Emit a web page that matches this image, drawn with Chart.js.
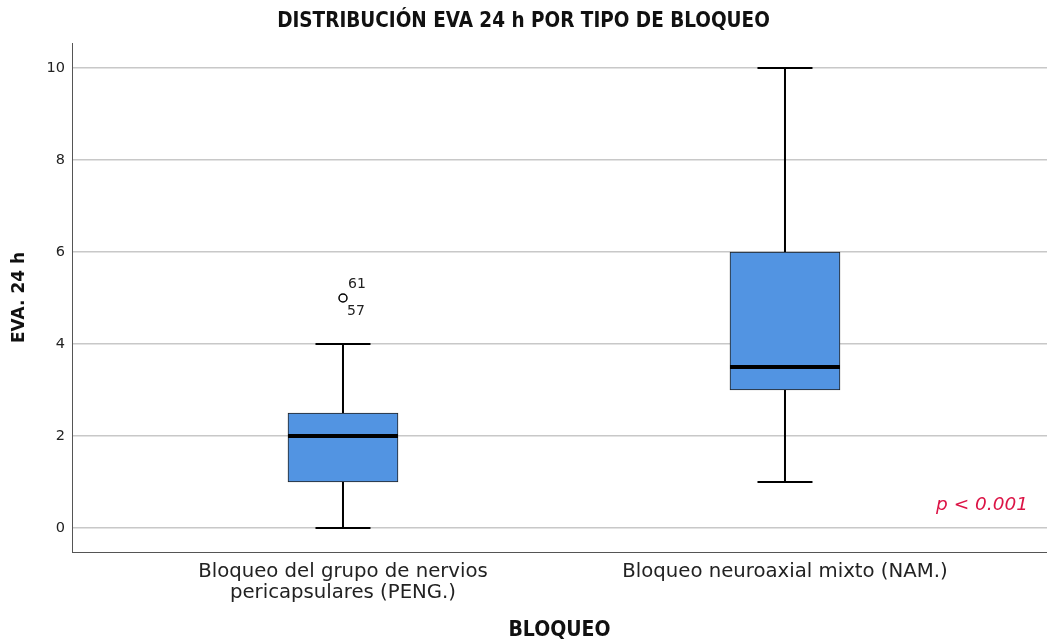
<!DOCTYPE html>
<html>
<head>
<meta charset="utf-8">
<script src="https://cdn.jsdelivr.net/npm/chart.js@4/dist/chart.umd.min.js"></script>
<style>
html,body{margin:0;padding:0;background:#fff;}
#wrap{width:1047px;height:644px;}
</style>
</head>
<body>
<div id="wrap"><canvas id="c" width="1047" height="644"></canvas></div>
<script>
// ---- data ----
const categoryLines = [['Bloqueo del grupo de nervios', 'pericapsulares (PENG.)'], ['Bloqueo neuroaxial mixto (NAM.)']];
const categoryPos = [0, 1];
const mins = [0, 1];
const q1s = [1, 3];
const medians = [2, 3.5];
const q3s = [2.5, 6];
const maxs = [4, 10];
const outlierCat = [0];
const outlierValues = [5];
const outlierCaseLabels = [['61', '57']];
const yTicks = [0, 2, 4, 6, 8, 10];
const titleText = 'DISTRIBUCIÓN EVA 24 h POR TIPO DE BLOQUEO';
const yTitle = 'EVA. 24 h';
const xTitle = 'BLOQUEO';
const pText = 'p < 0.001';

const boxColor = '#5294e2';
const condBold = '"DejaVu Sans Condensed", "DejaVu Sans"';

const boxPlugin = {
  id: 'boxExtras',
  afterDatasetsDraw(chart) {
    const ctx = chart.ctx;
    const xs = chart.scales.x, ys = chart.scales.y;
    const meta = chart.getDatasetMeta(0);
    ctx.save();
    categoryPos.forEach((c, i) => {
      const bar = meta.data[i];
      const half = bar.width / 2;
      const cx = xs.getPixelForValue(c);
      ctx.strokeStyle = '#000';
      ctx.lineWidth = 2;
      ctx.beginPath();
      ctx.moveTo(cx, ys.getPixelForValue(q3s[i]));
      ctx.lineTo(cx, ys.getPixelForValue(maxs[i]));
      ctx.moveTo(cx, ys.getPixelForValue(q1s[i]));
      ctx.lineTo(cx, ys.getPixelForValue(mins[i]));
      ctx.stroke();
      ctx.beginPath();
      const capHalf = half / 2;
      ctx.moveTo(cx - capHalf, ys.getPixelForValue(maxs[i]));
      ctx.lineTo(cx + capHalf, ys.getPixelForValue(maxs[i]));
      ctx.moveTo(cx - capHalf, ys.getPixelForValue(mins[i]));
      ctx.lineTo(cx + capHalf, ys.getPixelForValue(mins[i]));
      ctx.stroke();
      ctx.lineWidth = 4;
      ctx.beginPath();
      ctx.moveTo(cx - half, ys.getPixelForValue(medians[i]));
      ctx.lineTo(cx + half, ys.getPixelForValue(medians[i]));
      ctx.stroke();
    });
    // outlier case labels
    ctx.fillStyle = '#222';
    ctx.font = '14px "DejaVu Sans"';
    ctx.textAlign = 'left';
    ctx.textBaseline = 'middle';
    outlierValues.forEach((v, i) => {
      const px = xs.getPixelForValue(categoryPos[outlierCat[i]]);
      const py = ys.getPixelForValue(v);
      ctx.fillText(outlierCaseLabels[i][0], px + 5, py - 14);
      ctx.fillText(outlierCaseLabels[i][1], px + 4, py + 13);
    });
    // p value
    ctx.fillStyle = '#dc1446';
    ctx.font = 'italic 18.5px "DejaVu Sans"';
    ctx.textAlign = 'right';
    ctx.fillText(pText, chart.chartArea.right - 19, ys.getPixelForValue(0.5));
    ctx.restore();
  }
};

new Chart(document.getElementById('c'), {
  type: 'bar',
  data: {
    datasets: [
      {
        type: 'bar',
        data: categoryPos.map((c, i) => ({ x: c, y: [q1s[i], q3s[i]] })),
        backgroundColor: boxColor,
        borderColor: '#222',
        borderWidth: 1,
        borderSkipped: false,
        barThickness: 110,
        order: 2
      },
      {
        type: 'scatter',
        data: outlierValues.map((v, i) => ({ x: categoryPos[outlierCat[i]], y: v })),
        pointStyle: 'circle',
        pointRadius: 4,
        pointBackgroundColor: '#fff',
        pointBorderColor: '#000',
        pointBorderWidth: 1.5,
        order: 1
      }
    ]
  },
  options: {
    responsive: false,
    animation: false,
    layout: { autoPadding: false, padding: { left: 0, right: 0, top: 0, bottom: 0 } },
    plugins: {
      legend: { display: false },
      tooltip: { enabled: false },
      title: {
        display: true,
        text: titleText,
        color: '#111',
        font: { family: condBold, weight: 'bold', size: 20.5, lineHeight: 1.2 },
        padding: { top: 9, bottom: 9.4 }
      }
    },
    scales: {
      x: {
        type: 'linear',
        min: -0.6131,
        max: 1.5928,
        offset: false,
        afterBuildTicks(s) { s.ticks = categoryPos.map(v => ({ value: v })); },
        afterFit(s) { s.height = 92; s.paddingLeft = 0; s.paddingRight = 0; },
        grid: { display: false, drawTicks: false },
        border: { display: true, color: '#555', width: 1 },
        ticks: {
          padding: 10,
          autoSkip: false,
          maxRotation: 0,
          color: '#222',
          font: { family: '"DejaVu Sans"', size: 19.7, lineHeight: 1.05 },
          callback(v) { const i = categoryPos.indexOf(v); return i >= 0 ? categoryLines[i] : ''; }
        },
        title: {
          display: true,
          text: xTitle,
          color: '#111',
          font: { family: condBold, weight: 'bold', size: 21, lineHeight: 1.2 },
          padding: { top: 0, bottom: 0.5 }
        }
      },
      y: {
        min: -0.5217,
        max: 10.543,
        afterBuildTicks(s) { s.ticks = yTicks.map(v => ({ value: v })); },
        afterFit(s) { s.width = 72; s.paddingTop = 0; s.paddingBottom = 0; },
        grid: { color: '#c8c8c8', lineWidth: 1.5, drawTicks: false },
        border: { display: true, color: '#555', width: 1 },
        ticks: {
          padding: 7,
          color: '#222',
          font: { family: '"DejaVu Sans"', size: 14.5 },
          callback(v) { return String(v); }
        },
        title: {
          display: true,
          text: yTitle,
          color: '#111',
          font: { family: '"DejaVu Sans"', weight: 'bold', size: 17, lineHeight: 1.2 },
          padding: { top: 9, bottom: 0 }
        }
      }
    }
  },
  plugins: [boxPlugin]
});
</script>
</body>
</html>
